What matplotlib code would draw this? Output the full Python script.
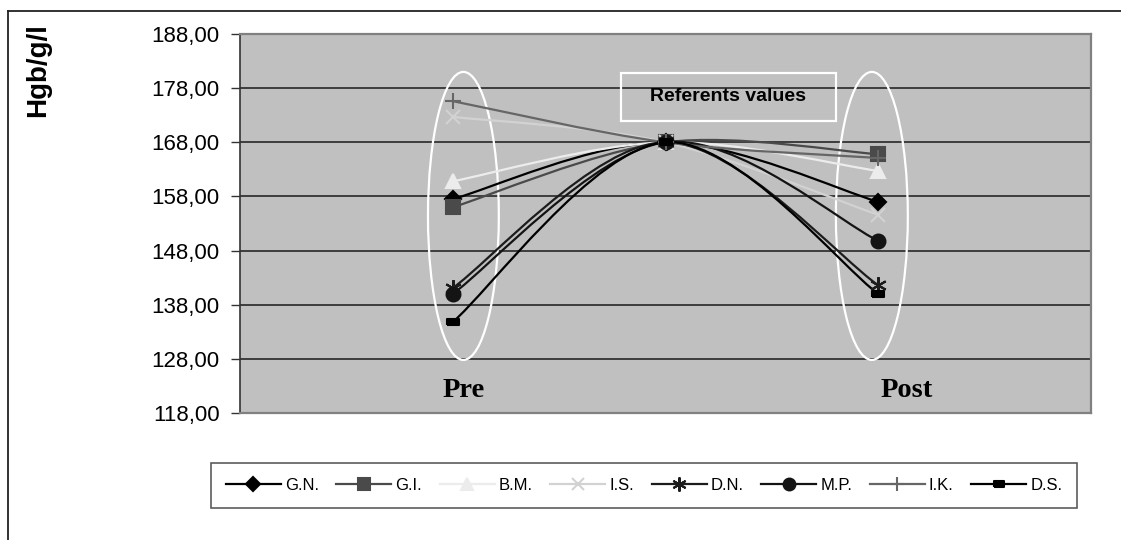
import numpy as np
import matplotlib
matplotlib.use("Agg")
import matplotlib.pyplot as plt
from matplotlib.path import Path
from matplotlib.patches import PathPatch, Ellipse, Rectangle
from matplotlib.lines import Line2D
from matplotlib.ticker import FuncFormatter

plt.rcParams['font.family'] = ['Liberation Sans', 'DejaVu Sans']

# three measuring points: Pre, referent value, Post
x_pos = [0, 1, 2]
names = ['G.N.', 'G.I.', 'B.M.', 'I.S.', 'D.N.', 'M.P.', 'I.K.', 'D.S.']
gn = [157.5, 168.0, 157.0]
gi = [156.0, 168.0, 165.8]
bm = [160.8, 168.0, 162.7]
is_ = [172.7, 168.0, 154.6]
dn = [141.1, 168.0, 141.6]
mp = [140.0, 168.0, 149.8]
ik = [175.6, 168.0, 165.1]
ds = [134.8, 168.0, 140.0]
values = [gn, gi, bm, is_, dn, mp, ik, ds]
y_ticks = [118, 128, 138, 148, 158, 168, 178, 188]

colors = ['#000000', '#4a4a4a', '#ececec', '#d2d2d2',
          '#1c1c1c', '#141414', '#666666', '#000000']
rect_marker = [(-1, -0.55), (1, -0.55), (1, 0.55), (-1, 0.55), (-1, -0.55)]
markers = ['D', 's', '^', 'x', (6, 2, 0), 'o', '+', rect_marker]
msizes = [8, 10, 10, 10, 12, 10, 12, 8]


def smooth_path(xs, ys):
    """Excel-like smoothed line: cubic bezier, catmull-rom control points"""
    pts = np.column_stack([xs, ys]).astype(float)
    n = len(pts)
    verts = [pts[0]]
    codes = [Path.MOVETO]
    for i in range(n - 1):
        p_prev = pts[max(i - 1, 0)]
        p0 = pts[i]
        p1 = pts[i + 1]
        p_next = pts[min(i + 2, n - 1)]
        c1 = p0 + (p1 - p_prev) / 6.0
        c2 = p1 - (p_next - p0) / 6.0
        verts += [c1, c2, p1]
        codes += [Path.CURVE4] * 3
    return Path(verts, codes)


fig = plt.figure(figsize=(11.21, 5.40), dpi=100)
ax = fig.add_axes([240 / 1121, 1 - 413 / 540, 851 / 1121, 379 / 540])
ax.set_facecolor('#c0c0c0')

ax.set_xlim(-1, 3)
ax.set_ylim(118, 188)
ax.set_yticks(y_ticks)
ax.yaxis.set_major_formatter(FuncFormatter(lambda v, p: f"{v:.2f}".replace('.', ',')))
ax.set_xticks([])
ax.tick_params(axis='y', direction='out', length=6.5, width=1, color='#333333',
               labelsize=16, pad=8)
ax.grid(axis='y', color='#1a1a1a', linewidth=1.1)
ax.set_axisbelow(True)
for side in ['top', 'right', 'bottom']:
    ax.spines[side].set_color('#808080')
    ax.spines[side].set_linewidth(1.6)
ax.spines['left'].set_color('#333333')
ax.spines['left'].set_linewidth(1.2)

# ellipses around Pre and Post
for cx, w in [(0.05, 0.333), (1.97, 0.338)]:
    ax.add_patch(Ellipse((cx, 154.4), w, 53.2, fill=False,
                         edgecolor='white', linewidth=1.6, zorder=2))

handles = []
for name, vals, c, m, ms in zip(names, values, colors, markers, msizes):
    ax.add_patch(PathPatch(smooth_path(x_pos, vals), fill=False,
                           edgecolor=c, linewidth=1.6, zorder=3))
    ax.plot(x_pos, vals, linestyle='none', marker=m, markersize=ms,
            color=c, markeredgewidth=1.5, zorder=4)
    handles.append(Line2D([], [], color=c, marker=m, markersize=ms * 0.85,
                          linewidth=1.6, markeredgewidth=1.5, label=name))

# referents values box
ax.add_patch(Rectangle((0.789, 171.93), 1.014, 8.87, fill=False,
                       edgecolor='white', linewidth=1.6, zorder=2))
ax.text(1.296, 176.4, 'Referents values', ha='center', va='center',
        fontsize=14, fontweight='bold', zorder=5)

ax.text(0.05, 120.95, 'Pre', ha='center', va='baseline', fontsize=20.5,
        fontweight='bold', family=['Liberation Serif'])
ax.text(2.136, 120.95, 'Post', ha='center', va='baseline', fontsize=20.5,
        fontweight='bold', family=['Liberation Serif'])

fig.text(38 / 1121, 1 - 70 / 540, 'Hgb/g/l', rotation=90, ha='center',
         va='center', fontsize=20, fontweight='bold')

leg = fig.legend(handles=handles, loc='center', ncol=8,
                 bbox_to_anchor=(644 / 1121, 1 - 485.5 / 540),
                 fontsize=12, frameon=True, fancybox=False, edgecolor='#333333',
                 handlelength=3.3, handletextpad=0.25, columnspacing=1.05,
                 borderpad=0.9)
leg.get_frame().set_linewidth(1.2)

# outer chart area border (top and left visible)
fig.add_artist(Line2D([8 / 1121, 8 / 1121], [0, 1 - 11 / 540],
                      transform=fig.transFigure, color='#222222', linewidth=1.3))
fig.add_artist(Line2D([8 / 1121, 1], [1 - 11 / 540, 1 - 11 / 540],
                      transform=fig.transFigure, color='#222222', linewidth=1.3))

fig.savefig('out.png', dpi=100)
